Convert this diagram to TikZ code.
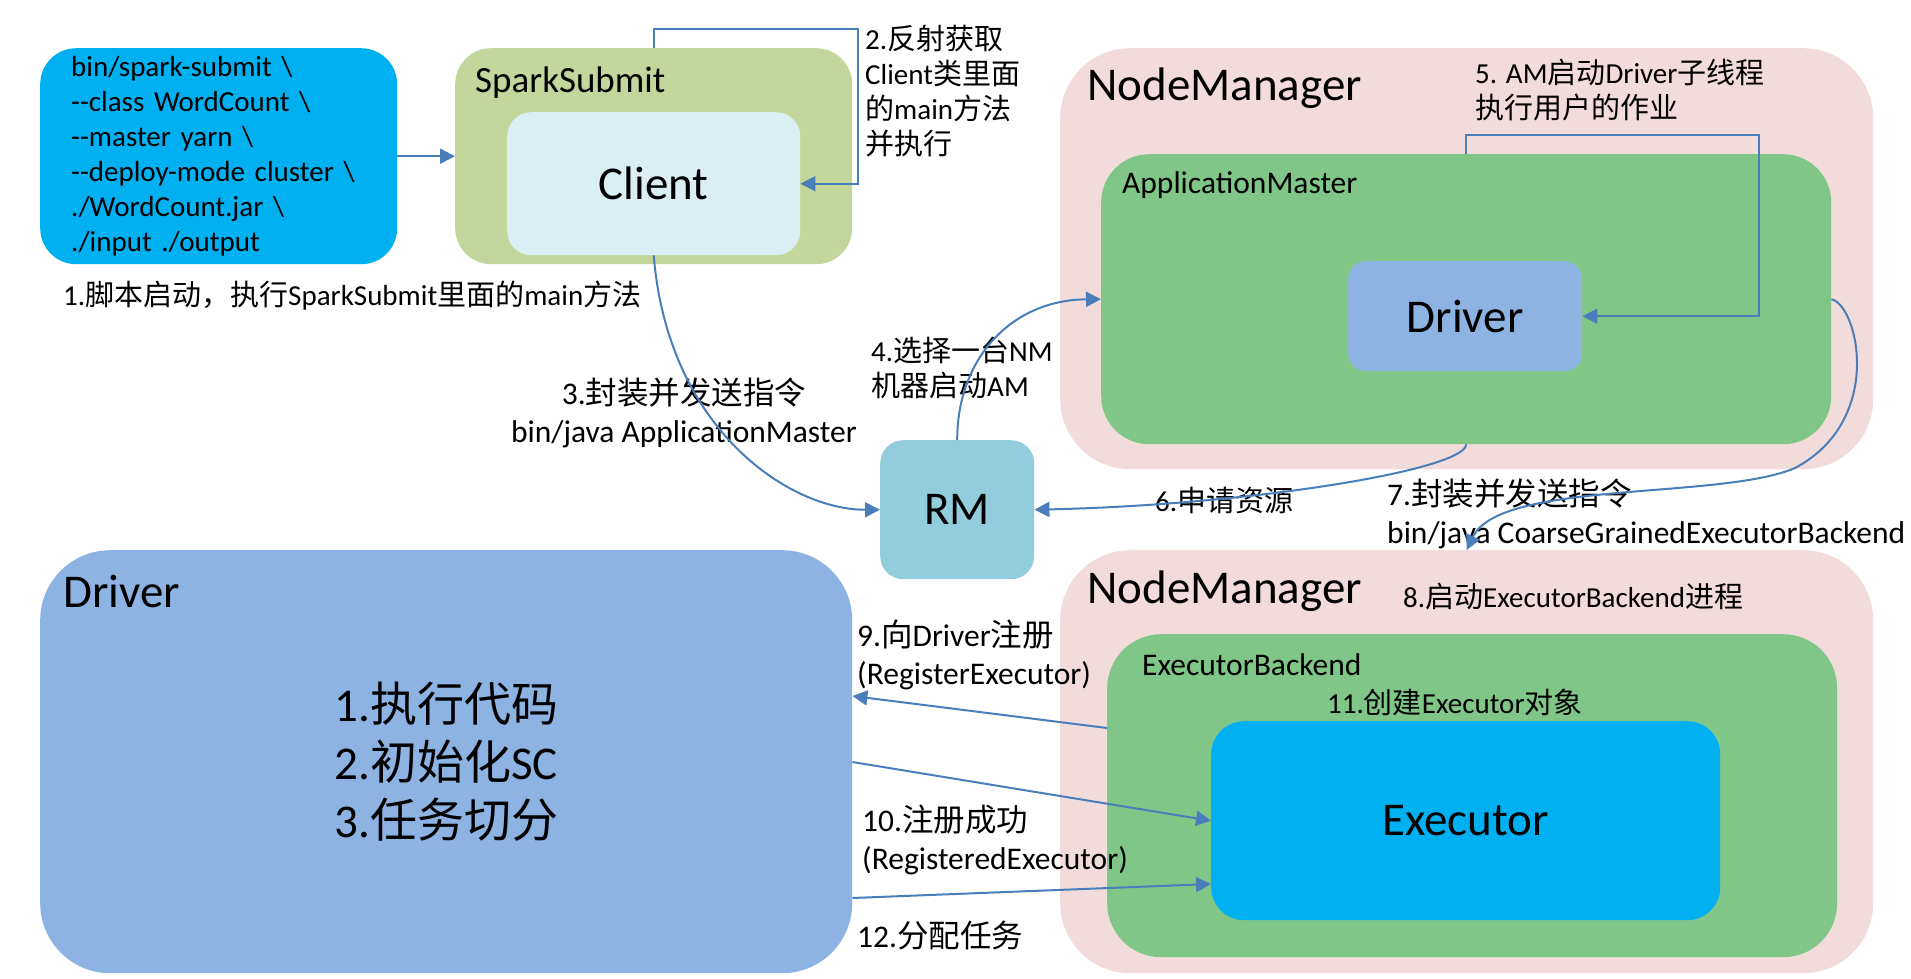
\documentclass[tikz,border=0pt]{standalone}
\usepackage{fontspec}
\setmainfont{Carlito}
\newfontfamily\zhfont{Noto Sans CJK SC}
\usetikzlibrary{arrows.meta}
\XeTeXinterchartokenstate=1
\chardef\zhclass=9
\count255="4E00
\loop\XeTeXcharclass\count255=\zhclass
\ifnum\count255<"9FFF\advance\count255 by 1\repeat
\count255="3000
\loop\XeTeXcharclass\count255=\zhclass
\ifnum\count255<"303F\advance\count255 by 1\repeat
\count255="FF00
\loop\XeTeXcharclass\count255=\zhclass
\ifnum\count255<"FF60\advance\count255 by 1\repeat
\XeTeXinterchartoks 0 \zhclass={\zhfont}
\XeTeXinterchartoks 4095 \zhclass={\zhfont}
\XeTeXinterchartoks \zhclass 0={\rmfamily}
\XeTeXinterchartoks \zhclass 4095={\rmfamily}
\definecolor{skyc}{HTML}{00B0F0}
\definecolor{olivec}{HTML}{C3D69B}
\definecolor{palec}{HTML}{DBEEF4}
\definecolor{pinkc}{HTML}{F2DCDB}
\definecolor{greenc}{HTML}{80C687}
\definecolor{bluec}{HTML}{8DB3E2}
\definecolor{rmc}{HTML}{93CDDD}
\definecolor{arrowc}{HTML}{4A7EBB}
\newcommand\dd{-\kern0pt-}
\begin{document}
\begin{tikzpicture}[x=1pt,y=-1pt,
	box/.style={rounded corners=#1,inner sep=0pt,anchor=north west},
	lbl/.style={font=\fontsize{29}{35}\selectfont,align=left,inner sep=0pt,anchor=west},
	lblb/.style={lbl,font=\fontsize{31.5}{38.5}\selectfont},
	ttl/.style={lbl,font=\fontsize{47}{58}\selectfont},
	arr/.style={draw=arrowc,line width=2pt,-{Triangle[length=15pt,width=15pt]}}]
	\useasboundingbox (0,0) rectangle (1911,978);
	\node[box=36pt,fill=skyc,minimum width=357pt,minimum height=216pt,text width=295pt,inner xsep=31pt,lbl,anchor=north west] (cmd) at (40,48)
		{bin/spark-submit \textbackslash\\\dd class WordCount \textbackslash\\\dd master yarn \textbackslash\\\dd deploy-mode cluster \textbackslash\\./WordCount.jar \textbackslash\\./input ./output};
	\node[box=36pt,fill=olivec,minimum width=397pt,minimum height=216pt] (ss) at (455,48) {};
	\node[box=24pt,fill=palec,minimum width=293pt,minimum height=143pt,font=\fontsize{47}{58}\selectfont] (client) at (507,112) {Client};
	\node[box=70pt,fill=pinkc,minimum width=813pt,minimum height=421pt] (nm1) at (1060,48) {};
	\node[box=48pt,fill=greenc,minimum width=730pt,minimum height=290pt] (am) at (1101,154) {};
	\node[box=18pt,fill=bluec,minimum width=234pt,minimum height=110pt,font=\fontsize{47}{58}\selectfont] (drv) at (1348,261) {Driver};
	\node[box=23pt,fill=rmc,minimum width=154pt,minimum height=139pt,font=\fontsize{47}{58}\selectfont] (rm) at (880,440) {RM};
	\node[box=70pt,fill=pinkc,minimum width=813pt,minimum height=423pt] (nm2) at (1060,550) {};
	\node[box=54pt,fill=greenc,minimum width=730pt,minimum height=323pt] (eb) at (1107,634) {};
	\node[box=33pt,fill=skyc,minimum width=509pt,minimum height=199pt,font=\fontsize{47}{58}\selectfont] (exe) at (1211,721) {Executor};
	\node[box=70pt,fill=bluec,minimum width=812pt,minimum height=423pt,align=left,font=\fontsize{47}{58}\selectfont] (drvbig) at (40,550)
		{1.执行代码\\2.初始化SC\\3.任务切分};
	\node[lbl,font=\fontsize{37}{44}\selectfont] (ssname) at (475,83) {SparkSubmit};
	\node[ttl] (nm1name) at (1087,88) {NodeManager};
	\node[lblb] (amname) at (1122,185) {ApplicationMaster};
	\node[ttl] (nm2name) at (1087,591) {NodeManager};
	\node[lblb] (ebname) at (1142,665) {ExecutorBackend};
	\node[ttl] (drvname) at (63,591) {Driver};
	\node[lbl] (l1) at (63,296) {1.脚本启动，执行SparkSubmit里面的main方法};
	\node[lbl] (l2) at (865,91) {2.反射获取\\Client类里面\\的main方法\\并执行};
	\node[lblb,align=center,anchor=center] (l3) at (684,413) {3.封装并发送指令\\bin/java ApplicationMaster};
	\node[lbl] (l4) at (871,368) {4.选择一台NM\\机器启动AM};
	\node[lbl] (l5) at (1475,90) {5. AM启动Driver子线程\\执行用户的作业};
	\node[lbl] (l6) at (1155,500) {6.申请资源};
	\node[lblb] (l7) at (1387,514) {7.封装并发送指令\\bin/java CoarseGrainedExecutorBackend};
	\node[lbl] (l8) at (1403,596) {8.启动ExecutorBackend进程};
	\node[lblb] (l9) at (857,655) {9.向Driver注册\\(RegisterExecutor)};
	\node[lblb] (l10) at (862,840) {10.注册成功\\(RegisteredExecutor)};
	\node[lbl] (l11) at (1327,702) {11.创建Executor对象};
	\node[lblb] (l12) at (857,936) {12.分配任务};
	\path (858,29) coordinate (k2) (1759,135) coordinate (k5);
	\draw[arr] (cmd) -- (ss);
	\draw[arr] (ss.north) |- (k2) |- (client.east);
	\draw[arr] (client.south) .. controls (668,430) and (790,510) .. (rm.west);
	\draw[arr] (rm.north) .. controls (957,360) and (1010,300) .. (am.west);
	\draw[arr] (am.north) |- (k5) |- (drv.east);
	\draw[arr] (am.south) .. controls (1465,470) and (1250,505) .. (rm.east);
	\draw[arr] (am.east) .. controls (1858,305) and (1885,420) .. (1795,468) .. controls (1720,500) and (1500,480) .. (nm2.north);
	\draw[arr] (eb.west |- 0,728) -- (drvbig.east |- 0,696);
	\draw[arr] (drvbig.east |- 0,762) -- (exe.west);
	\draw[arr] (drvbig.east |- 0,898) -- (exe.west |- 0,884);
\end{tikzpicture}
\end{document}
